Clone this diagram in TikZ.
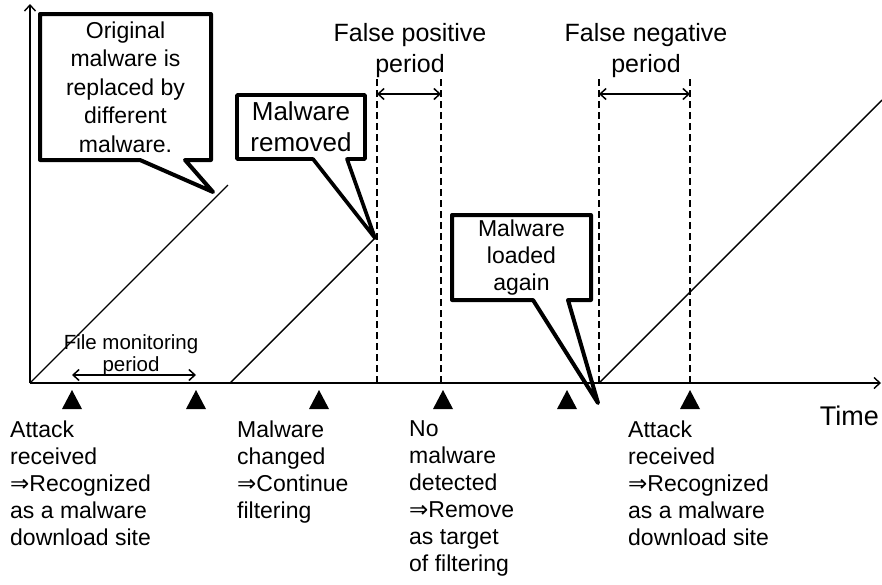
\documentclass[tikz,border=0pt]{standalone}
\usepackage{fontspec}
\setmainfont{Liberation Sans}
\newfontfamily\arrowfont{DejaVu Sans}
\usetikzlibrary{arrows.meta}
\newcommand{\thenarrow}{{\arrowfont ⇒}}

\begin{document}
\begin{tikzpicture}[x=1pt,y=-1pt,
  axis/.style={line width=2pt,-{Straight Barb[length=6pt,width=11pt,line width=1.4pt]}},
  ramp/.style={line width=1.4pt},
  limit/.style={line width=1.8pt,dash pattern=on 7pt off 4pt},
  span/.style={line width=1.5pt,{Straight Barb[length=6pt,width=11pt]}-{Straight Barb[length=6pt,width=11pt]}},
  balloon/.style={line width=4pt,line join=round},
  box/.style={inner sep=0pt,outer sep=0pt,align=center},
  note/.style={align=left,anchor=north west,inner sep=0pt,font=\fontsize{23}{27}\selectfont},
  head/.style={align=center,anchor=south,inner sep=0pt,font=\fontsize{25}{31}\selectfont}]
\useasboundingbox (0,0) rectangle (882,584);

% axes
\coordinate (o) at (30,383);
\draw[axis] (o) -- (30,4);
\draw[axis] (o) -- (881,383);
\node[inner sep=0pt,anchor=base east,font=\fontsize{27}{32}\selectfont] (time) at (879,425) {Time};

% event markers
\foreach \x [count=\i] in {72,196,319,443,567,690} {
  \coordinate (mk\i) at (\x,390);
  \fill (mk\i) -- ++(10,19) -- ++(-20,0) -- cycle;
}
\draw[span] ([yshift=15pt]mk1) -- ([yshift=15pt]mk2);
\node[head,font=\fontsize{20.5}{22}\selectfont] (monitor) at (131,376) {File monitoring\\period};

% malware growth
\coordinate (s2) at (230,383);
\coordinate (tip1) at (213,192);
\coordinate (tip2) at (375,238);
\coordinate (tip3) at (598,403);
\draw[ramp] (o) -- ++(198,-198);
\draw[ramp] (s2) -- (tip2);

% period limits
\coordinate (fp1) at (377,383);
\coordinate (fp2) at (441,383);
\coordinate (fn1) at (599,383);
\coordinate (fn2) at (690,383);
\draw[ramp] (fn1) -- ++(283,-283);
\foreach \c in {fp1,fp2,fn1,fn2} {
  \draw[limit] (\c) -- ++(0,-305);
}
\draw[span] ([yshift=289pt]fp1) -- ([yshift=289pt]fp2);
\draw[span] ([yshift=289pt]fn1) -- ([yshift=289pt]fn2);
\node[head] (fp) at (410,78) {False positive\\period};
\node[head] (fn) at (646,78) {False negative\\period};

% callouts
\node[box,minimum width=171pt,minimum height=146pt,font=\fontsize{23}{28.5}\selectfont] (c1) at (125.5,87)
  {Original\\malware is\\replaced by\\different\\malware.};
\draw[balloon] (c1.north west) -- (c1.north east) -- (c1.south east) -- ([xshift=-26pt]c1.south east)
  -- (tip1) -- ([xshift=100pt]c1.south west) -- (c1.south west) -- cycle;

\node[box,minimum width=128pt,minimum height=64pt,font=\fontsize{26}{31}\selectfont] (c2) at (301,127)
  {Malware\\removed};
\draw[balloon,line width=3.7pt] (c2.north west) -- (c2.north east) -- (c2.south east) -- ([xshift=-18pt]c2.south east)
  -- (tip2) -- ([xshift=76pt]c2.south west) -- (c2.south west) -- cycle;

\node[box,minimum width=139pt,minimum height=85pt,font=\fontsize{23}{27}\selectfont] (c3) at (521.5,257.5)
  {Malware\\loaded\\again};
\draw[balloon] (c3.north west) -- (c3.north east) -- (c3.south east) -- ([xshift=-23pt]c3.south east)
  -- (tip3) -- ([xshift=81pt]c3.south west) -- (c3.south west) -- cycle;

% event descriptions
\node[note] (ev1) at (10,420.5) {Attack\\received\\\thenarrow Recognized\\as a malware\\download site};
\node[note] (ev2) at (237,420.5) {Malware\\changed\\\thenarrow Continue\\filtering};
\node[note] (ev3) at (409,420.5) {No\\malware\\detected\\\thenarrow Remove\\as target\\of filtering};
\node[note] (ev4) at (628,420.5) {Attack\\received\\\thenarrow Recognized\\as a malware\\download site};
\end{tikzpicture}
\end{document}
